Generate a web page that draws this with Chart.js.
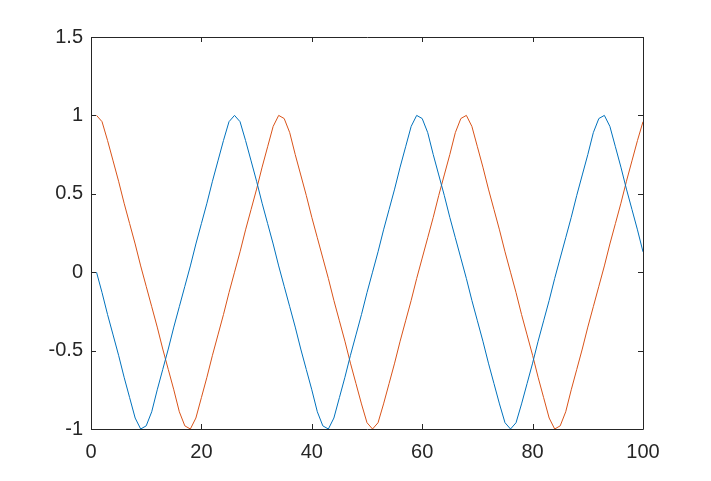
<!DOCTYPE html>
<html>
<head>
<meta charset="utf-8">
<script src="https://cdn.jsdelivr.net/npm/chart.js@4/dist/chart.umd.min.js"></script>
<style>
  html, body { margin: 0; padding: 0; background: #fff; }
  #wrap { width: 711px; height: 481px; }
</style>
</head>
<body>
<div id="wrap"><canvas id="myChart" width="711" height="481"></canvas></div>
<script>
const xs = [1,2,3,4,5,6,7,8,9,10,11,12,13,14,15,16,17,18,19,20,
  21,22,23,24,25,26,27,28,29,30,31,32,33,34,35,36,37,38,39,40,
  41,42,43,44,45,46,47,48,49,50,51,52,53,54,55,56,57,58,59,60,
  61,62,63,64,65,66,67,68,69,70,71,72,73,74,75,76,77,78,79,80,
  81,82,83,84,85,86,87,88,89,90,91,92,93,94,95,96,97,98,99,100];

const blueVals = [0.00,-0.13,-0.27,-0.40,-0.53,-0.67,-0.80,-0.93,-1.00,-0.98,
  -0.89,-0.75,-0.62,-0.49,-0.35,-0.22,-0.09,0.04,0.18,0.31,
  0.44,0.58,0.71,0.84,0.96,1.00,0.96,0.84,0.71,0.58,
  0.44,0.31,0.18,0.04,-0.09,-0.22,-0.35,-0.49,-0.62,-0.75,
  -0.89,-0.98,-1.00,-0.93,-0.80,-0.67,-0.53,-0.40,-0.27,-0.13,
  0.00,0.13,0.27,0.40,0.53,0.67,0.80,0.93,1.00,0.98,
  0.89,0.75,0.62,0.49,0.35,0.22,0.09,-0.04,-0.18,-0.31,
  -0.44,-0.58,-0.71,-0.84,-0.96,-1.00,-0.96,-0.84,-0.71,-0.58,
  -0.44,-0.31,-0.18,-0.04,0.09,0.22,0.35,0.49,0.62,0.75,
  0.89,0.98,1.00,0.93,0.80,0.67,0.53,0.40,0.27,0.13];

const redVals = [1.00,0.96,0.84,0.71,0.58,0.44,0.31,0.18,0.04,-0.09,
  -0.22,-0.35,-0.49,-0.62,-0.75,-0.89,-0.98,-1.00,-0.93,-0.80,
  -0.67,-0.53,-0.40,-0.27,-0.13,0.00,0.13,0.27,0.40,0.53,
  0.67,0.80,0.93,1.00,0.98,0.89,0.75,0.62,0.49,0.35,
  0.22,0.09,-0.04,-0.18,-0.31,-0.44,-0.58,-0.71,-0.84,-0.96,
  -1.00,-0.96,-0.84,-0.71,-0.58,-0.44,-0.31,-0.18,-0.04,0.09,
  0.22,0.35,0.49,0.62,0.75,0.89,0.98,1.00,0.93,0.80,
  0.67,0.53,0.40,0.27,0.13,0.00,-0.13,-0.27,-0.40,-0.53,
  -0.67,-0.80,-0.93,-1.00,-0.98,-0.89,-0.75,-0.62,-0.49,-0.35,
  -0.22,-0.09,0.04,0.18,0.31,0.44,0.58,0.71,0.84,0.96];

const xTicks = [0, 20, 40, 60, 80, 100];
const yTicks = [-1, -0.5, 0, 0.5, 1, 1.5];
const yTickLabels = ['-1', '-0.5', '0', '0.5', '1', '1.5'];

const axisColor = '#262626';
const tickFont = { family: 'Liberation Sans, Arial, sans-serif', size: 20 };

// box + inward ticks like matlab
const boxTicks = {
  id: 'boxTicks',
  afterDraw(chart) {
    const { ctx, chartArea: a, scales } = chart;
    ctx.save();
    ctx.strokeStyle = axisColor;
    ctx.lineWidth = 1;
    ctx.beginPath();
    ctx.rect(Math.round(a.left) + 0.5, Math.round(a.top) + 0.5,
      Math.round(a.right - a.left), Math.round(a.bottom - a.top));
    ctx.stroke();
    const len = 5;
    ctx.beginPath();
    xTicks.forEach(v => {
      const px = Math.round(scales.x.getPixelForValue(v)) + 0.5;
      ctx.moveTo(px, a.bottom); ctx.lineTo(px, a.bottom - len);
      ctx.moveTo(px, a.top); ctx.lineTo(px, a.top + len);
    });
    yTicks.forEach(v => {
      const py = Math.round(scales.y.getPixelForValue(v)) + 0.5;
      ctx.moveTo(a.left, py); ctx.lineTo(a.left + len, py);
      ctx.moveTo(a.right, py); ctx.lineTo(a.right - len, py);
    });
    ctx.stroke();
    ctx.restore();
  }
};

const ctx = document.getElementById('myChart');

new Chart(ctx, {
  type: 'line',
  data: {
    datasets: [
      {
        label: 'blue',
        data: xs.map((x, i) => ({ x: x, y: blueVals[i] })),
        borderColor: '#0072BD',
        borderWidth: 1,
        pointRadius: 0,
        tension: 0,
      },
      {
        label: 'red',
        data: xs.map((x, i) => ({ x: x, y: redVals[i] })),
        borderColor: '#D95319',
        borderWidth: 1,
        pointRadius: 0,
        tension: 0,
      },
    ],
  },
  options: {
    responsive: false,
    animation: false,
    layout: { padding: { top: 37, right: 68, left: 0, bottom: 0 } },
    plugins: { legend: { display: false }, tooltip: { enabled: false } },
    scales: {
      x: {
        type: 'linear',
        min: 0,
        max: 100,
        grid: { display: false, drawTicks: false },
        border: { display: false },
        ticks: {
          stepSize: 20,
          padding: 11,
          color: axisColor,
          font: tickFont,
        },
        afterFit(scale) { scale.height = 52; },
      },
      y: {
        min: -1,
        max: 1.5,
        grid: { display: false, drawTicks: false },
        border: { display: false },
        ticks: {
          stepSize: 0.5,
          padding: 8,
          color: axisColor,
          font: tickFont,
          callback: (v) => {
            const i = yTicks.indexOf(v);
            return i >= 0 ? yTickLabels[i] : '';
          },
        },
        afterFit(scale) { scale.width = 91; },
      },
    },
  },
  plugins: [boxTicks],
});
</script>
</body>
</html>
